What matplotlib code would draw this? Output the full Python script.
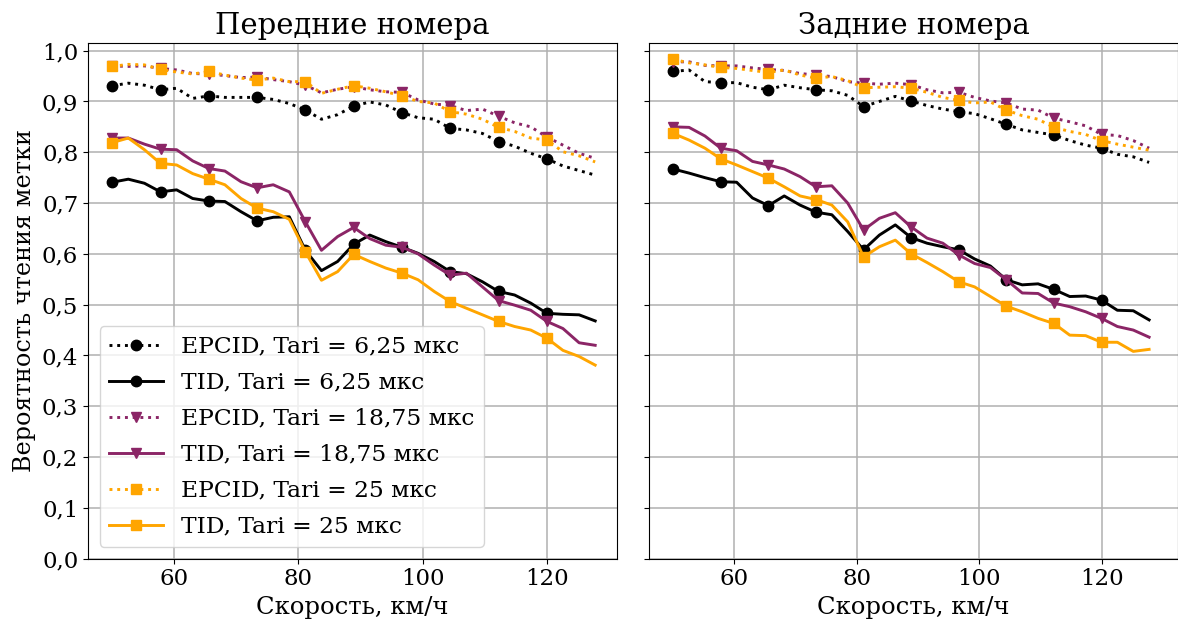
import matplotlib
matplotlib.use("Agg")
import matplotlib.pyplot as plt

plt.rcParams['font.family'] = ['DejaVu Serif']
plt.rcParams['font.size'] = 16

# скорость, км/ч (маркер на каждой третьей точке, до 120 км/ч)
speed = [50.0, 52.59, 55.19, 57.78, 60.37, 62.96, 65.56, 68.15, 70.74, 73.33,
         75.93, 78.52, 81.11, 83.70, 86.30, 88.89, 91.48, 94.07, 96.67, 99.26,
         101.85, 104.44, 107.04, 109.63, 112.22, 114.81, 117.41, 120.0, 122.59,
         125.19, 127.78]
mark_idx = list(range(0, 28, 3))

# передние номера
front_epc_625 = [0.931, 0.936, 0.932, 0.923, 0.926, 0.906, 0.911, 0.908, 0.908, 0.908,
                 0.904, 0.896, 0.883, 0.865, 0.874, 0.891, 0.899, 0.893, 0.878, 0.868,
                 0.865, 0.847, 0.844, 0.837, 0.821, 0.812, 0.798, 0.787, 0.773, 0.764, 0.755]
front_tid_625 = [0.741, 0.747, 0.739, 0.722, 0.726, 0.709, 0.704, 0.703, 0.683, 0.665,
                 0.672, 0.673, 0.607, 0.567, 0.585, 0.619, 0.637, 0.624, 0.613, 0.601,
                 0.585, 0.565, 0.561, 0.545, 0.526, 0.519, 0.503, 0.483, 0.481, 0.480, 0.468]
front_epc_1875 = [0.970, 0.969, 0.970, 0.965, 0.962, 0.955, 0.954, 0.951, 0.947, 0.948,
                  0.943, 0.939, 0.932, 0.917, 0.924, 0.929, 0.923, 0.919, 0.918, 0.903,
                  0.895, 0.892, 0.882, 0.885, 0.871, 0.858, 0.850, 0.830, 0.814, 0.798, 0.788]
front_tid_1875 = [0.828, 0.828, 0.816, 0.806, 0.805, 0.783, 0.768, 0.763, 0.742, 0.730,
                  0.736, 0.722, 0.663, 0.607, 0.634, 0.652, 0.630, 0.617, 0.613, 0.600,
                  0.578, 0.558, 0.562, 0.535, 0.508, 0.499, 0.489, 0.467, 0.453, 0.425, 0.420]
front_epc_25 = [0.969, 0.973, 0.972, 0.963, 0.958, 0.954, 0.959, 0.952, 0.946, 0.942,
                0.946, 0.939, 0.939, 0.916, 0.924, 0.931, 0.926, 0.919, 0.911, 0.900,
                0.897, 0.880, 0.875, 0.865, 0.849, 0.841, 0.828, 0.824, 0.801, 0.793, 0.781]
front_tid_25 = [0.819, 0.828, 0.805, 0.778, 0.775, 0.758, 0.747, 0.736, 0.709, 0.690,
                0.683, 0.668, 0.604, 0.548, 0.565, 0.599, 0.585, 0.572, 0.562, 0.549,
                0.526, 0.506, 0.493, 0.480, 0.467, 0.457, 0.450, 0.434, 0.410, 0.398, 0.381]

# задние номера
rear_epc_625 = [0.959, 0.962, 0.939, 0.937, 0.937, 0.928, 0.923, 0.932, 0.927, 0.923,
                0.921, 0.912, 0.890, 0.900, 0.910, 0.901, 0.892, 0.885, 0.880, 0.876,
                0.866, 0.855, 0.844, 0.839, 0.834, 0.823, 0.814, 0.808, 0.796, 0.791, 0.780]
rear_tid_625 = [0.767, 0.759, 0.750, 0.742, 0.741, 0.710, 0.695, 0.714, 0.696, 0.682,
                0.677, 0.644, 0.608, 0.637, 0.657, 0.632, 0.621, 0.614, 0.608, 0.590,
                0.576, 0.549, 0.539, 0.541, 0.530, 0.516, 0.517, 0.509, 0.489, 0.488, 0.470]
rear_epc_1875 = [0.978, 0.978, 0.971, 0.970, 0.970, 0.966, 0.963, 0.961, 0.955, 0.952,
                 0.949, 0.939, 0.936, 0.934, 0.936, 0.933, 0.923, 0.917, 0.918, 0.908,
                 0.901, 0.897, 0.885, 0.883, 0.867, 0.860, 0.852, 0.835, 0.833, 0.823, 0.808]
rear_tid_1875 = [0.850, 0.849, 0.832, 0.808, 0.803, 0.782, 0.775, 0.767, 0.752, 0.732,
                 0.734, 0.700, 0.647, 0.670, 0.681, 0.653, 0.631, 0.621, 0.598, 0.581,
                 0.573, 0.549, 0.523, 0.522, 0.503, 0.496, 0.486, 0.473, 0.457, 0.450, 0.436]
rear_epc_25 = [0.983, 0.976, 0.972, 0.967, 0.965, 0.961, 0.957, 0.962, 0.952, 0.946,
               0.949, 0.941, 0.927, 0.928, 0.929, 0.926, 0.918, 0.908, 0.902, 0.897,
               0.899, 0.883, 0.872, 0.865, 0.849, 0.841, 0.835, 0.823, 0.816, 0.810, 0.804]
rear_tid_25 = [0.837, 0.824, 0.808, 0.787, 0.775, 0.762, 0.749, 0.732, 0.714, 0.707,
               0.696, 0.663, 0.594, 0.614, 0.627, 0.600, 0.583, 0.565, 0.545, 0.535,
               0.516, 0.497, 0.486, 0.473, 0.463, 0.440, 0.439, 0.426, 0.426, 0.408, 0.412]

labels = ['EPCID, Tari = 6,25 мкс', 'TID, Tari = 6,25 мкс',
          'EPCID, Tari = 18,75 мкс', 'TID, Tari = 18,75 мкс',
          'EPCID, Tari = 25 мкс', 'TID, Tari = 25 мкс']
colors = ['black', 'black', '#8b2566', '#8b2566', 'orange', 'orange']
markers = ['o', 'o', 'v', 'v', 's', 's']
styles = [':', '-', ':', '-', ':', '-']

y_ticks = [0.0, 0.1, 0.2, 0.3, 0.4, 0.5, 0.6, 0.7, 0.8, 0.9, 1.0]
y_tick_labels = ['0,0', '0,1', '0,2', '0,3', '0,4', '0,5', '0,6', '0,7', '0,8', '0,9', '1,0']

fig = plt.figure(figsize=(11.78, 6.24), dpi=100)
ax1 = fig.add_axes([0.0747, 0.1047, 0.4491, 0.8269])
ax2 = fig.add_axes([0.5512, 0.1047, 0.4488, 0.8269], sharey=ax1)

panels = [
    (ax1, 'Передние номера', [front_epc_625, front_tid_625, front_epc_1875,
                              front_tid_1875, front_epc_25, front_tid_25], (46.1, 131.3)),
    (ax2, 'Задние номера', [rear_epc_625, rear_tid_625, rear_epc_1875,
                            rear_tid_1875, rear_epc_25, rear_tid_25], (46.1, 132.5)),
]

for ax, title, series, xlim in panels:
    for vals, lab, c, m, ls in zip(series, labels, colors, markers, styles):
        ax.plot(speed, vals, linestyle=ls, color=c, marker=m, markevery=mark_idx,
                markersize=7.5, linewidth=2.1, label=lab)
    ax.set_title(title, fontsize=21)
    ax.set_xlabel('Скорость, км/ч', fontsize=17.5)
    ax.set_xlim(*xlim)
    ax.set_xticks([60, 80, 100, 120])
    ax.tick_params(labelsize=16.5)
    ax.grid(True, color='#b0b0b0', linewidth=1.1)

ax1.set_ylim(0, 1.0157)
ax1.set_yticks(y_ticks, labels=y_tick_labels)
ax1.set_ylabel('Вероятность чтения метки', fontsize=17.2)
plt.setp(ax2.get_yticklabels(), visible=False)

ax1.legend(loc='lower left', fontsize=16.8, handlelength=2.3, labelspacing=0.6)

fig.savefig('out.png', dpi=100)
